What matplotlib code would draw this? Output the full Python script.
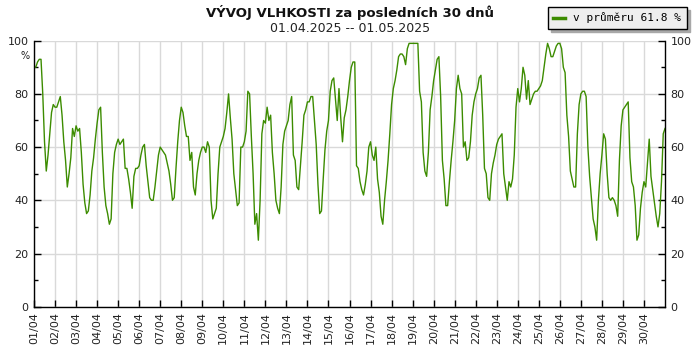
import numpy as np
import matplotlib
matplotlib.use("Agg")
import matplotlib.pyplot as plt
from matplotlib.ticker import MultipleLocator

# Relative humidity [%], sampled every 2 hours, 01.04.2025 00:00 .. 01.05.2025 00:00
day_labels = [f"{d:02d}/04" for d in range(1, 31)]
samples_per_day = 12

humidity = [
    90, 90, 92, 93, 93, 80, 62, 51, 57, 65, 73, 76,   # 01/04
    75, 75, 77, 79, 72, 62, 55, 45, 50, 56, 67, 64,   # 02/04
    68, 66, 67, 58, 46, 39, 35, 36, 42, 51, 56, 63,   # 03/04
    69, 74, 75, 58, 45, 38, 35, 31, 33, 50, 58, 61,   # 04/04
    63, 61, 62, 63, 52, 52, 48, 43, 37, 49, 52, 52,   # 05/04
    53, 57, 60, 61, 53, 47, 41, 40, 40, 45, 51, 57,   # 06/04
    60, 59, 58, 57, 54, 51, 46, 40, 41, 52, 62, 70,   # 07/04
    75, 73, 68, 64, 64, 55, 58, 45, 42, 50, 55, 58,   # 08/04
    60, 60, 58, 62, 60, 40, 33, 35, 37, 50, 60, 62,   # 09/04
    64, 67, 73, 80, 71, 63, 50, 44, 38, 39, 60, 60,   # 10/04
    62, 66, 81, 80, 64, 50, 31, 35, 25, 40, 65, 70,   # 11/04
    69, 75, 70, 72, 58, 50, 40, 37, 35, 45, 61, 66,   # 12/04
    68, 70, 76, 79, 57, 55, 45, 44, 53, 62, 72, 74,   # 13/04
    77, 77, 79, 79, 70, 61, 46, 35, 36, 48, 59, 66,   # 14/04
    70, 81, 85, 86, 78, 70, 82, 71, 62, 71, 74, 79,   # 15/04
    85, 90, 92, 92, 53, 52, 47, 44, 42, 46, 51, 60,   # 16/04
    62, 57, 55, 60, 48, 43, 34, 31, 40, 47, 55, 65,   # 17/04
    76, 82, 85, 89, 94, 95, 95, 94, 91, 97, 99, 99,   # 18/04
    99, 99, 99, 99, 81, 77, 58, 51, 49, 58, 74, 79,   # 19/04
    85, 89, 93, 94, 79, 55, 48, 38, 38, 47, 55, 62,   # 20/04
    70, 82, 87, 82, 80, 60, 62, 55, 56, 62, 72, 77,   # 21/04
    80, 82, 86, 87, 72, 52, 50, 41, 40, 50, 54, 57,   # 22/04
    61, 63, 64, 65, 50, 45, 40, 47, 45, 48, 57, 75,   # 23/04
    82, 77, 82, 90, 87, 78, 85, 76, 78, 80, 81, 81,   # 24/04
    82, 83, 85, 90, 95, 99, 97, 94, 94, 96, 98, 99,   # 25/04
    99, 97, 90, 88, 72, 64, 51, 48, 45, 45, 65, 76,   # 26/04
    80, 81, 81, 79, 60, 49, 41, 33, 30, 25, 40, 50,   # 27/04
    57, 65, 63, 50, 41, 40, 41, 40, 38, 34, 55, 68,   # 28/04
    74, 75, 76, 77, 56, 47, 45, 38, 25, 27, 37, 43,   # 29/04
    47, 45, 54, 63, 49, 44, 39, 34, 30, 35, 47, 65,   # 30/04
    67,
]
legend_label = "v průměru 61.8 %"
title = "VÝVOJ VLHKOSTI za posledních 30 dnů"
subtitle = "01.04.2025 -- 01.05.2025"

line_color = "#3c8c00"
grid_color = "#d9d9d9"

fig = plt.figure(figsize=(7, 3.5), dpi=100)
ax = fig.add_axes([34 / 700, 1 - 306.7 / 350, (665 - 34) / 700, (306.7 - 40.7) / 350])

t = np.arange(len(humidity)) / samples_per_day
ax.plot(t, humidity, color=line_color, lw=1.0, label=legend_label)

ax.set_xlim(0, len(day_labels))
ax.set_ylim(0, 100)

ax.set_xticks(np.arange(len(day_labels)))
ax.set_xticklabels(day_labels, rotation=90, fontsize=8, color="#222222")
ax.yaxis.set_major_locator(MultipleLocator(20))
ax.yaxis.set_minor_locator(MultipleLocator(10))

ax.tick_params(axis="x", direction="in", length=5, width=1, pad=4)
ax.tick_params(axis="y", which="major", direction="in", length=5, width=1,
               labelsize=8, labelcolor="#222222", left=True, right=True,
               labelleft=True, labelright=True, pad=4)
ax.tick_params(axis="y", which="minor", direction="in", length=3, width=1,
               left=True, right=True)

ax.grid(True, which="major", color=grid_color, lw=1)
ax.set_axisbelow(True)
ax.spines["top"].set_visible(False)
for s in ("left", "right", "bottom"):
    ax.spines[s].set_color("black")
    ax.spines[s].set_linewidth(1)

fig.text(25 / 700, 1 - 56 / 350, "%", fontsize=7, ha="center", va="center",
         color="#222222")

fig.text(0.5, 1 - 13 / 350, title, fontsize=9.5, fontweight="bold",
         ha="center", va="center", color="#111111")
fig.text(0.5, 1 - 29 / 350, subtitle, fontsize=9, ha="center", va="center",
         color="#222222")

leg = ax.legend(loc="upper right", bbox_to_anchor=(687 / 700, 1 - 7 / 350),
                bbox_transform=fig.transFigure, borderaxespad=0,
                prop={"family": "DejaVu Sans Mono", "size": 8},
                frameon=True, fancybox=False,
                shadow={"color": "#a8a8a8", "alpha": 1.0},
                handlelength=1.0, handletextpad=0.8, borderpad=0.5)
leg.get_frame().set_facecolor("#eeeeee")
leg.get_frame().set_edgecolor("black")
leg.get_frame().set_linewidth(1)
leg.get_frame().set_alpha(1)
for h in leg.get_lines():
    h.set_linewidth(2.5)

fig.savefig("out.png", dpi=100)
